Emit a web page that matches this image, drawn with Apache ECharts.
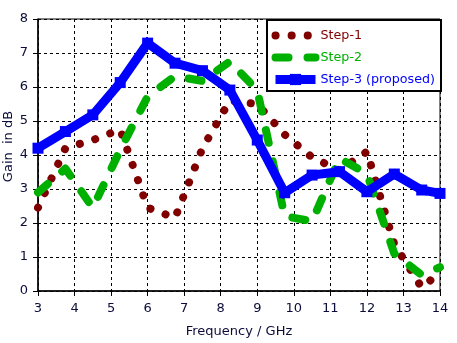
<!DOCTYPE html>
<html>
<head>
<meta charset="utf-8">
<script src="https://cdn.jsdelivr.net/npm/echarts@6/dist/echarts.min.js"></script>
<style>
  html, body { margin: 0; padding: 0; background: #ffffff; }
  #chart { width: 457px; height: 343px; }
</style>
</head>
<body>
<div id="chart"></div>
<script>
// Frequency samples (GHz)
const freqs = [3, 3.75, 4.5, 5.25, 6, 6.75, 7.5, 8.25, 9, 9.75, 10.5, 11.25, 12, 12.75, 13.5, 14];

// Gain (dB) for each design step
const step1 = [2.45, 4.2, 4.44, 4.75, 2.45, 2.15, 4.2, 5.6, 5.5, 4.6, 3.93, 3.55, 4.1, 1.37, 0.1, 0.55];
const step2 = [2.9, 3.6, 2.45, 4.15, 5.72, 6.32, 6.18, 6.75, 5.9, 2.2, 2.05, 3.9, 3.45, 1.1, 0.47, 0.7];
const step3 = [4.2, 4.69, 5.18, 6.13, 7.29, 6.7, 6.48, 5.91, 4.44, 2.89, 3.41, 3.51, 2.92, 3.44, 2.97, 2.87];

const seriesNames = ['Step-1', 'Step-2', 'Step-3 (proposed)'];
const xTicks = { min: 3, max: 14, interval: 1 };
const yTicks = { min: 0, max: 8, interval: 1 };

const FONT = 'DejaVu Sans';
const INK = '#0c0c3a';
const RED = '#800000', GREEN = '#00b000', BLUE = '#0000ff';

const pairs = ys => freqs.map((f, i) => [f, ys[i]]);

const chart = echarts.init(document.getElementById('chart'), null, { renderer: 'canvas' });

chart.setOption({
  backgroundColor: '#ffffff',
  animation: false,
  textStyle: { fontFamily: FONT },
  grid: {
    left: 38, right: 17, top: 19, bottom: 52,
    outerBoundsMode: 'none',
    containLabel: false,
    show: true, borderColor: '#000', borderWidth: 1, backgroundColor: 'transparent'
  },
  legend: {
    orient: 'vertical',
    left: 267, top: 20,
    padding: [9, 6, 5, 4],
    itemGap: 9,
    itemWidth: 40,
    itemHeight: 14,
    borderColor: '#000',
    borderWidth: 2,
    backgroundColor: '#ffffff',
    textStyle: { fontFamily: FONT, fontSize: 12.7 },
    data: [
      { name: seriesNames[0], lineStyle: { width: 8 }, itemStyle: { opacity: 0 }, textStyle: { color: RED } },
      { name: seriesNames[1], lineStyle: { width: 8 }, itemStyle: { opacity: 0 }, textStyle: { color: GREEN } },
      { name: seriesNames[2], lineStyle: { width: 9 }, textStyle: { color: BLUE } }
    ]
  },
  xAxis: {
    type: 'value',
    min: xTicks.min, max: xTicks.max, interval: xTicks.interval,
    name: 'Frequency / GHz',
    nameLocation: 'middle',
    nameGap: 34,
    nameMoveOverlap: false,
    nameTextStyle: { fontFamily: FONT, fontSize: 13, color: INK },
    axisLine: { show: true, lineStyle: { color: '#000', width: 1.5 } },
    axisTick: { show: true, inside: false, length: 5, lineStyle: { color: '#000' } },
    axisLabel: { margin: 11, fontFamily: FONT, fontSize: 13, color: INK },
    splitLine: { show: true, lineStyle: { color: '#000', width: 1, type: [3, 3] } }
  },
  yAxis: {
    type: 'value',
    min: yTicks.min, max: yTicks.max, interval: yTicks.interval,
    name: 'Gain  in dB',
    nameLocation: 'middle',
    nameGap: 23,
    nameMoveOverlap: false,
    nameRotate: 90,
    nameTextStyle: { fontFamily: FONT, fontSize: 13, color: INK, padding: [0, 0, 0, 17] },
    axisLine: { show: true, lineStyle: { color: '#000', width: 1.5 } },
    axisTick: { show: true, inside: false, length: 5, lineStyle: { color: '#000' } },
    axisLabel: { margin: 10, fontFamily: FONT, fontSize: 13, color: INK },
    splitLine: { show: true, lineStyle: { color: '#000', width: 1, type: [3, 3] } }
  },
  series: [
    {
      name: seriesNames[0],
      type: 'line',
      data: pairs(step1),
      symbol: 'none',
      color: RED,
      lineStyle: { color: RED, width: 8, type: [0.1, 16], cap: 'round', join: 'round' },
      z: 2
    },
    {
      name: seriesNames[1],
      type: 'line',
      data: pairs(step2),
      symbol: 'none',
      color: GREEN,
      lineStyle: { color: GREEN, width: 8, type: [13, 19], cap: 'round', join: 'round' },
      z: 3
    },
    {
      name: seriesNames[2],
      type: 'line',
      data: pairs(step3),
      symbol: 'rect',
      symbolSize: 11,
      showSymbol: true,
      color: BLUE,
      itemStyle: { color: BLUE, borderWidth: 0 },
      lineStyle: { color: BLUE, width: 9, join: 'miter' },
      z: 4
    }
  ]
});
</script>
</body>
</html>
